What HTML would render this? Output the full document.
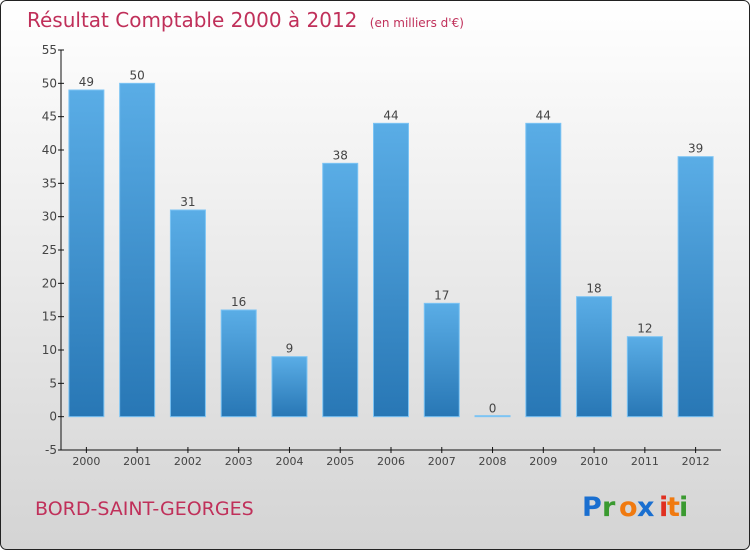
<!DOCTYPE html>
<html><head><meta charset="utf-8"><style>
html,body{margin:0;padding:0;width:750px;height:550px;overflow:hidden}
svg{display:block;font-family:"DejaVu Sans","Liberation Sans",sans-serif}
</style></head><body>
<svg width="750" height="550">
<defs>
<linearGradient id="bg" x1="0" y1="0" x2="0" y2="1"><stop offset="0" stop-color="#ffffff"/><stop offset="1" stop-color="#d4d4d4"/></linearGradient>
<linearGradient id="bar" x1="0" y1="0" x2="0" y2="1"><stop offset="0" stop-color="#5aade6"/><stop offset="1" stop-color="#2877b5"/></linearGradient>
</defs>
<rect x="0.5" y="0.5" width="749" height="549" rx="6" fill="url(#bg)" stroke="#222"/>
<text x="27" y="27" font-size="20" fill="#c0305a">Résultat Comptable 2000 à 2012 <tspan font-size="12" dx="6">(en milliers d'€)</tspan></text>
<g id="axes"></g>
<g id="bars"></g>
<text x="35" y="515" font-size="19" fill="#c0305a">BORD-SAINT-GEORGES</text>
<g font-size="27" font-weight="bold">
<text x="582" y="516" fill="#1a6fd0">P</text><text x="602" y="516" fill="#3a9a30">r</text><text x="619" y="516" fill="#f07a10">o</text><text x="637" y="516" fill="#1a6fd0">x</text><text x="659" y="516" fill="#e03020">i</text><text x="667" y="516" fill="#f07a10">t</text><text x="679" y="516" fill="#3a9a30">i</text>
</g>
</svg>
<script>
const categories=["2000","2001","2002","2003","2004","2005","2006","2007","2008","2009","2010","2011","2012"];
const values=[49,50,31,16,9,38,44,17,0,44,18,12,39];
const yTicks=[-5,0,5,10,15,20,25,30,35,40,45,50,55];
const NS="http://www.w3.org/2000/svg";
const x0=61,x1=721,yTop=50,yBot=450,vMin=-5,vMax=55;
const y=v=>yBot-(v-vMin)/(vMax-vMin)*(yBot-yTop);
const step=(x1-x0)/categories.length;
const xc=i=>x0+step*(i+0.5);
function mk(tag,attrs,parent){const e=document.createElementNS(NS,tag);for(const k in attrs)e.setAttribute(k,attrs[k]);parent.appendChild(e);return e;}
const ax=document.getElementById('axes'),bg=document.getElementById('bars');
let l=mk('line',{x1:x0,y1:yTop,x2:x0,y2:yBot,stroke:'#111'},ax);


l=mk('line',{x1:x0,y1:yBot,x2:x1,y2:yBot,stroke:'#111'},ax);


yTicks.forEach(t=>{
 mk('line',{x1:x0-3,y1:y(t),x2:x0+3,y2:y(t),stroke:'#111'},ax);
 const tx=mk('text',{x:x0-4,y:y(t)+4,'font-size':12,fill:'#444','text-anchor':'end'},ax);
 tx.textContent=t;
 
 
});
categories.forEach((c,i)=>{
 mk('line',{x1:xc(i),y1:yBot-3,x2:xc(i),y2:yBot+3,stroke:'#111'},ax);
 const tx=mk('text',{x:xc(i),y:yBot+15,'font-size':11,fill:'#444','text-anchor':'middle'},ax);
 tx.textContent=c;
 
 
 const v=values[i],top=y(Math.max(v,0)),h=Math.max(Math.abs(y(v)-y(0)),1);
 const r=mk('rect',{x:xc(i)-17.5,y:v===0?y(0)-1:top,width:35,height:h,fill:'url(#bar)',stroke:'#7cc4f4','stroke-width':1},bg);
 
 
 const lb=mk('text',{x:xc(i),y:top-4,'font-size':12,fill:'#444','text-anchor':'middle'},bg);
 lb.textContent=v;
 
 
});
</script>
</body></html>
